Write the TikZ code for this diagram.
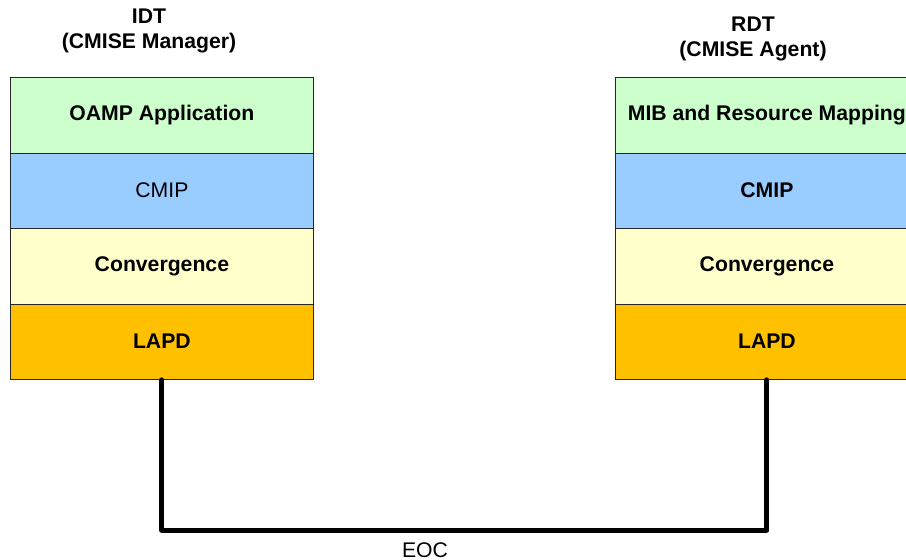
\documentclass[tikz,border=0pt]{standalone}
\usepackage{fontspec}
\setmainfont{Liberation Sans}
\definecolor{appgreen}{HTML}{CCFFCC}
\definecolor{cmipblue}{HTML}{99CCFF}
\definecolor{convyellow}{HTML}{FFFFCC}
\definecolor{lapdorange}{HTML}{FFC000}
\begin{document}
\begin{tikzpicture}[x=1pt,y=-1pt,
  layer/.style={draw=black!85, line width=0.8pt, minimum width=303pt, minimum height=75.5pt,
    inner sep=0pt, font=\fontsize{21.2}{25}\selectfont, anchor=north west},
  heading/.style={font=\bfseries\fontsize{21.2}{24.5}\selectfont, align=center},
  link/.style={line width=5pt, line join=round, line cap=round}]
\useasboundingbox (0,0) rectangle (906,560);
\clip (0,0) rectangle (906,560);
% manager stack
\node[layer, fill=appgreen]   (oamp) at (10,77)    {\bfseries OAMP Application};
\node[layer, fill=cmipblue]   (cmipL) at (10,152.5) {CMIP};
\node[layer, fill=convyellow] (convL) at (10,228)  {\bfseries Convergence};
\node[layer, fill=lapdorange] (lapdL) at (10,303.5) {\bfseries LAPD};
% agent stack
\node[layer, fill=appgreen]   (mib) at (615,77)    {\bfseries MIB and Resource Mapping};
\node[layer, fill=cmipblue]   (cmipR) at (615,152.5) {\bfseries CMIP};
\node[layer, fill=convyellow] (convR) at (615,228)  {\bfseries Convergence};
\node[layer, fill=lapdorange] (lapdR) at (615,303.5) {\bfseries LAPD};
% titles
\node[heading] (idt) at (149,31) {IDT\\(CMISE Manager)};
\node[heading] (rdt) at (753,39) {RDT\\(CMISE Agent)};
% EOC link
\coordinate (bl) at (lapdL.south |- 0,530);
\coordinate (br) at (lapdR.south |- 0,530);
\draw[link] (lapdL.south) -- (bl) -- (br) -- (lapdR.south);
\node[font=\fontsize{21.2}{25}\selectfont] (eoc) at (425,550) {EOC};
\end{tikzpicture}
\end{document}
